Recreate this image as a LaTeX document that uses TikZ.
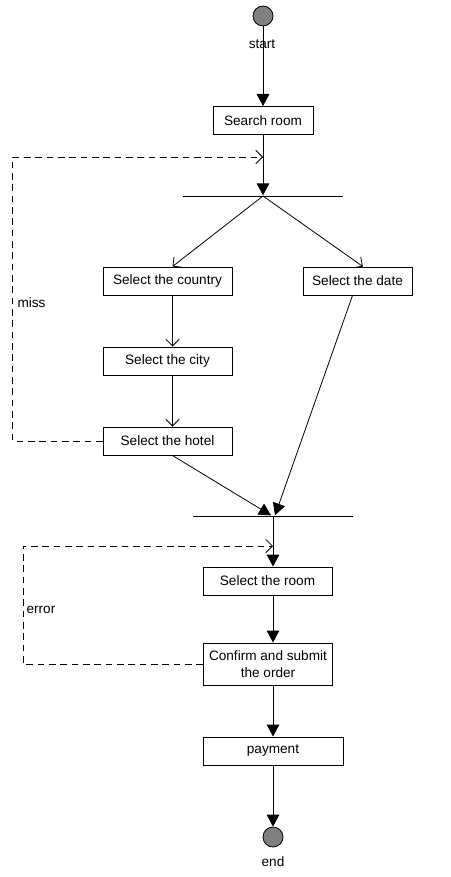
\documentclass[tikz,border=0pt]{standalone}
\usepackage{fontspec}
\setmainfont{Liberation Sans}
\usepackage{xcolor}
\usepackage{tikz}
\usetikzlibrary{arrows.meta,positioning,calc}

\definecolor{stategray}{RGB}{128,128,128}

\begin{document}
\begin{tikzpicture}[
    x=0.75pt, y=-0.75pt,
    act/.style={
      draw, minimum height=21pt, minimum width=96.75pt,
      inner sep=2pt, align=center, font=\fontsize{10.2}{12.2}\selectfont,
      fill=white, line width=0.75pt
    },
    state/.style={
      circle, draw, fill=stategray, minimum size=15pt,
      inner sep=0pt, line width=0.6pt
    },
    bar/.style={
      fill=black, inner sep=0pt, minimum height=0.6pt,
      minimum width=120pt
    },
    lbl/.style={font=\fontsize{10.2}{12.2}\selectfont, inner sep=1pt},
    flow/.style={-{Triangle[length=9pt,width=9.5pt]}, line width=0.75pt},
    open/.style={-{Straight Barb[length=5pt,width=10pt]}, line width=0.6pt},
    back/.style={open, dash pattern=on 5pt off 3.5pt}
  ]
    \useasboundingbox (0,0) rectangle (450,877);

    % Start and search
    \node[state] (start) at (263,16) {};
    \node[lbl] (startlbl) at (262,44) {start};
    \node[act, minimum width=75pt] (search) at (263,120.5) {Search room};
    \node[bar] (fork) at (263,196) {};

    \draw[flow] (start) -- (search);
    \draw[flow] (search) -- (fork.north);

    % Branches
    \node[act] (country) at (167.5,281) {Select the country};
    \node[act] (city) at (167.5,361) {Select the city};
    \node[act] (hotel) at (167.5,441) {Select the hotel};
    \node[act, minimum width=81.75pt] (date) at (357.5,281) {Select the date};

    \draw[open] (fork.center) -- ([xshift=3.75pt]country.north);
    \draw[open] (fork.center) -- ([xshift=4pt]date.north);
    \draw[open] ([xshift=3.75pt]country.south) -- ([xshift=3.75pt]city.north);
    \draw[open] ([xshift=3.75pt]city.south) -- ([xshift=3.75pt]hotel.north);

    % Loop back on miss
    \coordinate (missto) at (263,157);
    \draw[back] (hotel.west) -- ++(-90,0) |- (missto);
    \node[lbl, anchor=west] (miss) at (16,303) {miss};

    % Join
    \node[bar] (join) at (273,516) {};
    \draw[flow, line width=0.6pt] ([xshift=3.75pt]hotel.south) -- ([xshift=-1.5pt]join.north);
    \draw[flow, line width=0.6pt] ([xshift=-3.75pt]date.south) -- ([xshift=1.5pt]join.north);

    % Booking
    \node[act] (room) at (267.5,581) {Select the room};
    \node[act, minimum height=31.5pt] (confirm) at (268,664) {Confirm and submit\\the order};
    \node[act, minimum width=105pt] (payment) at (273,751) {payment};
    \node[state] (end) at (273,837) {};
    \node[lbl] (endlbl) at (273,862) {end};

    \draw[flow] (join.south) -- (join |- room.north);
    \draw[flow] (join |- room.south) -- (join |- confirm.north);
    \draw[flow] (join |- confirm.south) -- (payment);
    \draw[flow] (payment) -- (end);

    % Loop back on error
    \coordinate (errto) at (273,546);
    \draw[back] (confirm.west) -- ++(-180,0) |- (errto);
    \node[lbl, anchor=west] (error) at (25,610) {error};
  \end{tikzpicture}
\end{document}
